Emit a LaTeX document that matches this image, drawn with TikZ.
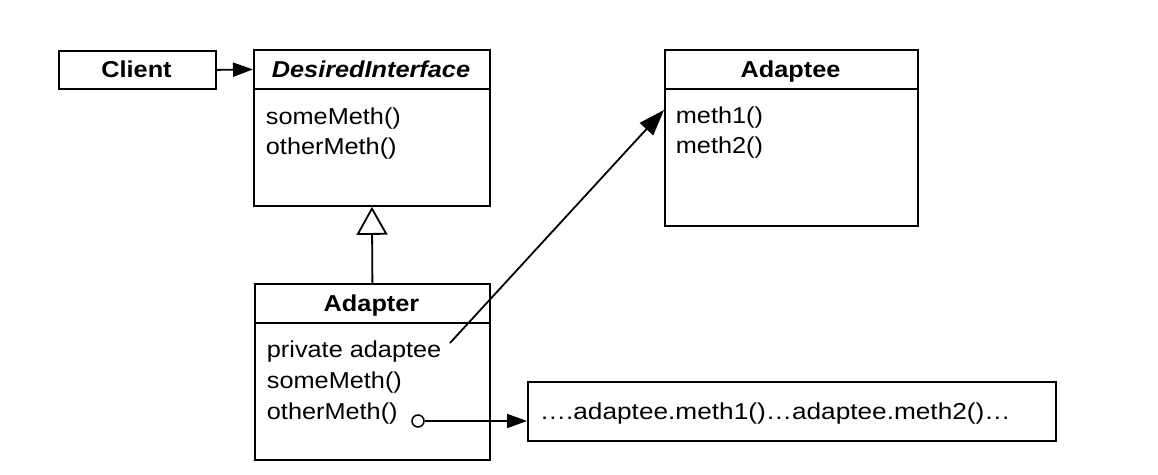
\documentclass[tikz,border=0pt]{standalone}
\usepackage{fontspec}
\setmainfont{Liberation Sans}
\usetikzlibrary{arrows.meta,calc}
\newcommand{\sx}[1]{\scalebox{1.1}[1]{#1}}
\begin{document}
\begin{tikzpicture}[x=1pt,y=-1pt,
  line width=1.8pt,
  box/.style={draw, line width=1.8pt, inner sep=0pt, anchor=north west},
  title/.style={font=\fontsize{23}{28}\selectfont\bfseries, anchor=base, inner sep=0pt},
  attr/.style={font=\fontsize{23}{28}\selectfont, anchor=base west, inner sep=0pt},
  solidtip/.style={-{Triangle[length=20pt,width=14pt]}},
  inherit/.style={-{Triangle[open,fill=white,length=28pt,width=31pt]}}
]
\useasboundingbox[fill=white] (0,0) rectangle (1158,474);

% Client
\node[box, minimum width=157pt, minimum height=38pt] (client) at (58,50) {};
\node[title] (clientt) at (136.5,77) {\sx{Client}};

% DesiredInterface
\node[box, minimum width=236pt, minimum height=39pt] (dih) at (253,49) {};
\node[box, minimum width=236pt, minimum height=117pt] (dib) at (253,88) {};
\node[title, font=\fontsize{23}{28}\selectfont\bfseries\itshape] (dit) at (371,77) {\sx{DesiredInterface}};
\node[attr] (di1) at (265,124) {\sx{someMeth()}};
\node[attr] (di2) at (265,154) {\sx{otherMeth()}};

% Adaptee
\node[box, minimum width=253pt, minimum height=39pt] (aeh) at (664,49) {};
\node[box, minimum width=253pt, minimum height=137pt] (aeb) at (664,88) {};
\node[title] (aet) at (790.5,77) {\sx{Adaptee}};
\node[attr] (ae1) at (675,123) {\sx{meth1()}};
\node[attr] (ae2) at (675,153) {\sx{meth2()}};

% Adapter
\node[box, minimum width=235pt, minimum height=39pt] (adh) at (254,283) {};
\node[box, minimum width=235pt, minimum height=137pt] (adb) at (254,322) {};
\node[title] (adt) at (371.5,311) {\sx{Adapter}};
\node[attr] (ad1) at (266,357) {\sx{private adaptee}};
\node[attr] (ad2) at (266,388) {\sx{someMeth()}};
\node[attr] (ad3) at (266,419) {\sx{otherMeth()}};

% Call box
\node[box, minimum width=528pt, minimum height=59pt] (call) at (527,381) {};
\node[attr] (callt) at (539,419) {\scalebox{1.14}[1]{….adaptee.meth1()…adaptee.meth2()…}};

% Connectors
\draw[solidtip] (client.east) -- (dih.west);
\draw[inherit] (adh.north) -- (dib.south);
\coordinate (pa) at (450,343);
\draw[-{Triangle[length=26pt,width=18pt]}] (pa) -- ($(aeb.north west)+(0,22)$);
\node[circle, draw, fill=white, minimum size=12pt, inner sep=0pt, line width=1.5pt] (dot) at (418,421) {};
\draw[solidtip] (dot.east) -- (dot.east -| call.west);
\end{tikzpicture}
\end{document}
